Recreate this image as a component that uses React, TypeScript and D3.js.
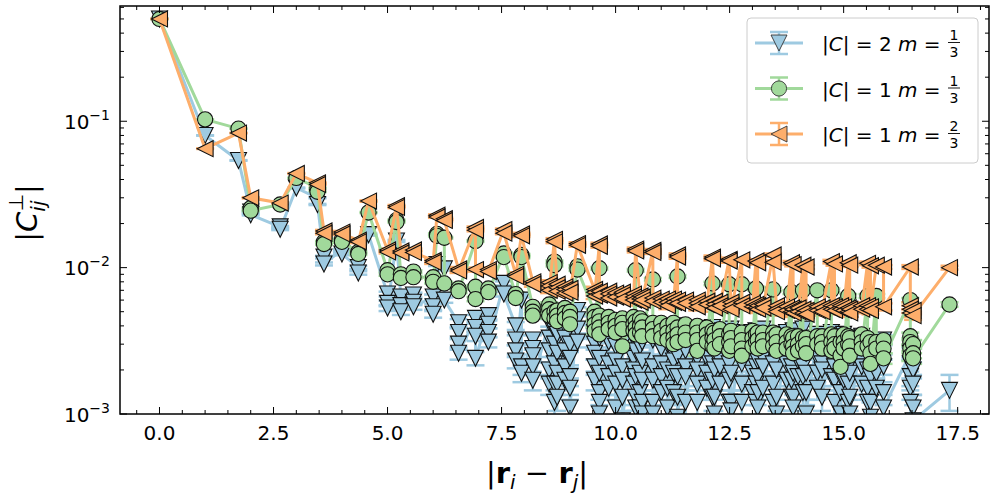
import React from 'react';
import * as d3 from 'd3';

// pair distances |r_i - r_j| (x positions of the point columns)
const distances = [
0, 1, 1.732, 2, 2.646, 3, 3.464, 3.606, 4, 4.359,
4.583, 5, 5.196, 5.292, 5.568, 6, 6.083, 6.245, 6.557, 6.928,
7.211, 7.55, 7.81, 7.937, 8.185, 8.544, 8.66, 8.718, 8.888, 9.0,
9.165, 9.539, 9.644, 9.849, 10.0, 10.149, 10.392, 10.44, 10.536, 10.583,
10.817, 11.0, 11.136, 11.269, 11.358, 11.533, 11.79, 12.0, 12.124, 12.166,
12.288, 12.49, 12.53, 12.767, 13.0, 13.077, 13.115, 13.229, 13.454, 13.528,
13.748, 13.856, 13.892, 14.0, 14.107, 14.177, 14.422, 14.526, 14.731, 14.799,
14.933, 15.0, 15.1, 15.133, 15.395, 15.524, 15.588, 15.716, 15.875, 16.462,
16.523, 17.321
];

// |C| = 2, m = 1/3 (down triangles): values at each distance
const blueValues: number[][] = [
[0.50],[0.080],[0.054],[0.024, 0.023],[0.0190, 0.0183],[0.035],[0.030, 0.027],[0.0118, 0.0106],[0.0132, 0.0124],[0.0100, 0.0092],
[0.0168],[0.0066, 0.0057, 0.0053],[0.0152],[0.0063, 0.0055, 0.0050],[0.0065, 0.0058, 0.0054],[0.0063, 0.0054, 0.0048],[0.0105],[0.0098, 0.0060],[0.0042, 0.0036, 0.0030, 0.0026],[0.0045, 0.0039, 0.0034, 0.0024],
[0.0047, 0.0041, 0.0036, 0.0031],[0.0078, 0.0066],[0.0040, 0.0032, 0.0027, 0.0023],[0.0060, 0.0021, 0.0019],[0.0032, 0.0028, 0.0025, 0.0021, 0.0017],
[0.0042, 0.0033, 0.0027, 0.0020, 0.0016],
[0.0037, 0.0030, 0.0022, 0.0016, 0.0012],
[0.0035, 0.0026, 0.0019, 0.0016, 0.0013],
[0.0040, 0.0033, 0.0027, 0.0021, 0.0017],
[0.0030, 0.0024, 0.0018, 0.0015, 0.0011],
[0.0051, 0.0044, 0.0038, 0.0031],
[0.0036, 0.0030, 0.0026, 0.0021, 0.0017],
[0.0033, 0.0024, 0.0019, 0.0014, 0.0012, 0.0010],
[0.0038, 0.0031, 0.0022, 0.0018, 0.0015],
[0.0029, 0.0023, 0.0019, 0.0016, 0.0011],
[0.0035, 0.0030, 0.0021, 0.0017, 0.0013, 0.0009],
[0.0040, 0.0033, 0.0024, 0.0020, 0.0016],
[0.0034, 0.0027, 0.0018, 0.0013, 0.0011],
[0.0037, 0.0029, 0.0019, 0.0014, 0.0011],
[0.0031, 0.0023, 0.0017, 0.0012, 0.0010],
[0.0039, 0.0032, 0.0021, 0.0017, 0.0012, 0.0010],
[0.0035, 0.0028, 0.0022, 0.0018, 0.0014],
[0.0038, 0.0030, 0.0020, 0.0015, 0.0011],
[0.0033, 0.0026, 0.0023, 0.0019, 0.0014],
[0.0040, 0.0033, 0.0025, 0.0018, 0.0013, 0.00095],
[0.0036, 0.0027, 0.0021, 0.0018, 0.0012],
[0.0038, 0.0030, 0.0024, 0.0020, 0.0016, 0.0012],
[0.0034, 0.0028, 0.0024, 0.0019, 0.0015],
[0.0039, 0.0031, 0.0022, 0.0017, 0.0013],
[0.0032, 0.0026, 0.0020, 0.0013, 0.0010],
[0.0037, 0.0029, 0.0023, 0.0021, 0.0016],
[0.0035, 0.0027, 0.0022, 0.0017, 0.0012],
[0.0038, 0.0030, 0.0019, 0.0012, 0.00105],
[0.0036, 0.0031, 0.0025, 0.0022, 0.0016, 0.0012],
[0.0033, 0.0028, 0.0024, 0.0019, 0.0014],
[0.0037, 0.0029, 0.0021, 0.0016, 0.0012],
[0.0034, 0.0027, 0.0023, 0.0018, 0.0014, 0.0011],
[0.0038, 0.0030, 0.0024, 0.0021, 0.0015],
[0.0035, 0.0026, 0.0022, 0.0016, 0.0012],
[0.0032, 0.0028, 0.0020, 0.0013, 0.0010],
[0.0036, 0.0031, 0.0025, 0.0022, 0.0017],
[0.0033, 0.0027, 0.0021, 0.0017, 0.0013],
[0.0037, 0.0029, 0.0019, 0.0013, 0.0011],
[0.0034, 0.0030, 0.0026, 0.0023, 0.0018],
[0.0038, 0.0030, 0.0021, 0.0018, 0.0014],
[0.0033, 0.0026, 0.0019, 0.0014, 0.0010],
[0.0035, 0.0029, 0.0024, 0.0019, 0.0015],
[0.0032, 0.0027, 0.0022, 0.0020, 0.0013],
[0.0036, 0.0031, 0.0026, 0.0024, 0.0018],
[0.0034, 0.0028, 0.0021, 0.0017, 0.0012],
[0.0031, 0.0028, 0.0018, 0.0014, 0.0010],
[0.0035, 0.0030, 0.0024, 0.0022, 0.0017],
[0.0033, 0.0027, 0.0021, 0.0016, 0.0012],
[0.0030, 0.0025, 0.0019, 0.0013, 0.0010],
[0.0034, 0.0029, 0.0023, 0.0021, 0.0016],
[0.0031, 0.0026, 0.0020, 0.0015, 0.0012],
[0.0029, 0.0024, 0.0018, 0.0012, 0.00095],
[0.0030, 0.0027, 0.0023, 0.0019, 0.0015],
[0.0032, 0.0028, 0.0021, 0.0014, 0.0011],
[0.0026, 0.0022, 0.0018, 0.0015, 0.0012],
[0.0020, 0.0016, 0.0011, 0.0009],
[0.00145]
];

// |C| = 1, m = 1/3 (circles)
const greenValues: number[][] = [
[0.50],[0.103],[0.089],[0.0255, 0.0245],[0.027],[0.041],[0.035, 0.033],[0.0150, 0.0145],[0.0156, 0.0150],[0.0128, 0.0124],
[0.0238],[0.0096, 0.0090],[0.0211, 0.0205],[0.0090, 0.0085],[0.0094, 0.0086],[0.0086, 0.0080],[0.0170, 0.0165],[0.0160, 0.0078],[0.0072, 0.0069],[0.0152, 0.0074, 0.0061],
[0.0072, 0.0068],[0.0125, 0.0118],[0.0066, 0.0062],[0.0122, 0.0118],[0.0054, 0.0050, 0.0047],
[0.0056, 0.0052, 0.0047],
[0.0110, 0.0104, 0.0050, 0.0045],
[0.0051, 0.0047, 0.0043],
[0.0053, 0.0049, 0.0045],
[0.0050, 0.0046, 0.0041],
[0.0102, 0.0097],
[0.0050, 0.0046, 0.0041, 0.0037],
[0.0099, 0.0047, 0.0043, 0.0039, 0.0035],
[0.0046, 0.0042, 0.0038],
[0.0044, 0.0040, 0.0036],
[0.0045, 0.0042, 0.0038, 0.0029],
[0.0046, 0.0041, 0.0037],
[0.0096, 0.0043, 0.0039, 0.0035],
[0.0045, 0.0040, 0.0036],
[0.0043, 0.0039, 0.0034],
[0.0083, 0.0042, 0.0038, 0.0034],
[0.0042, 0.0037, 0.0033],
[0.0040, 0.0036, 0.0032],
[0.0042, 0.0037, 0.0033, 0.0030],
[0.0087, 0.0039, 0.0035, 0.0031],
[0.0041, 0.0036, 0.0032],
[0.0040, 0.0036, 0.0032, 0.0027],
[0.0039, 0.0035, 0.0031],
[0.0078, 0.0037, 0.0033, 0.0029],
[0.0036, 0.0032, 0.0028],
[0.0038, 0.0034, 0.0030],
[0.0077, 0.0035, 0.0031, 0.0027],
[0.0037, 0.0033, 0.0029],
[0.0077, 0.0036, 0.0032, 0.0028, 0.0025],
[0.0037, 0.0033, 0.0029],
[0.0072, 0.0035, 0.0031],
[0.0036, 0.0032, 0.0028],
[0.0036, 0.0032, 0.0029],
[0.0071, 0.0036, 0.0033, 0.0029],
[0.0035, 0.0031, 0.0027],
[0.0035, 0.0031, 0.0028],
[0.0068, 0.0034, 0.0030],
[0.0033, 0.0029, 0.0026],
[0.0034, 0.0030, 0.0027],
[0.0070, 0.0033, 0.0029],
[0.0033, 0.0030, 0.0026],
[0.0070, 0.0034, 0.0030],
[0.0034, 0.0031, 0.0028],
[0.0070, 0.0035, 0.0031, 0.0027],
[0.0034, 0.0030, 0.0028],
[0.0031, 0.0025, 0.0021],
[0.0035, 0.0031, 0.0028],
[0.0064, 0.0034, 0.0030],
[0.0033, 0.0029, 0.0025],
[0.0035, 0.0031, 0.0028],
[0.0064, 0.0033, 0.0029],
[0.0031, 0.0026, 0.0022],
[0.0064, 0.0031, 0.0028],
[0.0032, 0.0028, 0.0024],
[0.0060, 0.0034, 0.0031, 0.0028, 0.0025],
[0.0030, 0.0026, 0.0024],
[0.0056]
];

// |C| = 1, m = 2/3 (left triangles)
const orangeValues: number[][] = [
[0.50],[0.065],[0.083],[0.030],[0.0276],[0.044],[0.038, 0.037],[0.0178, 0.0172],[0.0175, 0.0170],[0.0154, 0.0150],
[0.0285],[0.0132, 0.0128],[0.0265, 0.0258],[0.0130, 0.0126],[0.0132, 0.0127],[0.0112, 0.0109],[0.0228, 0.0222],[0.0216, 0.0210],[0.0098, 0.0095],[0.0188, 0.0180, 0.0097],
[0.0097, 0.0094],[0.0182, 0.0172],[0.0090, 0.0087],[0.0170, 0.0165],[0.0080, 0.0077],
[0.0079, 0.0075, 0.0070],
[0.0156, 0.0150],
[0.0077, 0.0073, 0.0069],
[0.0074, 0.0071, 0.0067],
[0.0072, 0.0068],
[0.0146, 0.0142],
[0.0071, 0.0068, 0.0064],
[0.0145, 0.0140, 0.0069, 0.0065],
[0.0069, 0.0066, 0.0062],
[0.0067, 0.0063],
[0.0068, 0.0065, 0.0061],
[0.0066, 0.0063, 0.0060],
[0.0134, 0.0130],
[0.0064, 0.0061, 0.0058],
[0.0063, 0.0060],
[0.0131, 0.0127, 0.0062, 0.0059],
[0.0061, 0.0058],
[0.0061, 0.0058, 0.0055],
[0.0061, 0.0058],
[0.0122, 0.0118, 0.0060, 0.0057],
[0.0060, 0.0057],
[0.0060, 0.0057, 0.0054],
[0.0059, 0.0056],
[0.0118, 0.0115],
[0.0059, 0.0056, 0.0053],
[0.0058, 0.0055],
[0.0114, 0.0111],
[0.0058, 0.0055, 0.0052],
[0.0113, 0.0058, 0.0055],
[0.0057, 0.0054],
[0.0111, 0.0056, 0.0053],
[0.0108, 0.0055, 0.0052],
[0.0056, 0.0053],
[0.0122, 0.0109],
[0.0055, 0.0052, 0.0050],
[0.0054, 0.0051],
[0.0108, 0.0053, 0.0050],
[0.0105, 0.0052, 0.0049],
[0.0053, 0.0050],
[0.0104, 0.0052, 0.0049],
[0.0101, 0.0051, 0.0048],
[0.0054, 0.0051],
[0.0053, 0.0050],
[0.0110, 0.0055, 0.0052],
[0.0106, 0.0054, 0.0051],
[0.0055, 0.0052],
[0.0054, 0.0051],
[0.0108, 0.0053, 0.0050],
[0.0104, 0.0052, 0.0049],
[0.0055, 0.0052],
[0.0107, 0.0055, 0.0052],
[0.0103, 0.0054, 0.0051],
[0.0104],
[0.0101, 0.0054],
[0.0101, 0.0055, 0.0052, 0.0049],
[0.0051, 0.0047],
[0.0100]
];

const seriesErr = [0.00025, 0.0002, 0.0003];
const lastBlueErr = 0.0004;
const seriesColors = ['#9ecae1', '#a1d99b', '#fdae6b'];
const seriesMarkers = ['down', 'circle', 'left'];
const legendC = ['2', '1', '1'];
const legendNum = ['1', '1', '2'];
const legendDen = ['3', '3', '3'];

const xTicks = [0, 2.5, 5, 7.5, 10, 12.5, 15, 17.5];
const xTickLabels = ['0.0', '2.5', '5.0', '7.5', '10.0', '12.5', '15.0', '17.5'];
const yTicks = [1e-3, 1e-2, 1e-1];
const yTickExps = ['\u22123', '\u22122', '\u22121'];

const W = 996, H = 498;
const L = 120, R = 989, T = 6, B = 414;
const FONT = 'DejaVu Sans, sans-serif';

function flatten(vals: number[][], si: number): number[][] {
  const out: number[][] = [];
  vals.forEach((list, i) => list.forEach(v => out.push([distances[i], v, seriesErr[si]])));
  if (si === 0) out[out.length - 1][2] = lastBlueErr;
  return out;
}

function markerPath(kind: string, cx: number, cy: number, s: number) {
  const h = s / 2;
  if (kind === 'down') return `M${cx - h},${cy - h}L${cx + h},${cy - h}L${cx},${cy + h}Z`;
  if (kind === 'left') return `M${cx - h},${cy}L${cx + h},${cy - h}L${cx + h},${cy + h}Z`;
  return '';
}

export default function App() {
  const x = d3.scaleLinear().domain([-0.866, 18.187]).range([L, R]);
  const y = d3.scaleLog().domain([1e-3, 0.613]).range([B, T]);
  const all = [flatten(blueValues, 0), flatten(greenValues, 1), flatten(orangeValues, 2)];
  const line = d3.line<number[]>().x(d => x(d[0])).y(d => y(Math.max(d[1], 1e-5)));
  const S = 16;

  const xMinor = d3.range(-0.5, 18.01, 0.5).filter(v => Math.abs(v / 2.5 - Math.round(v / 2.5)) > 1e-6);
  const yMinor: number[] = [];
  [1e-3, 1e-2, 1e-1].forEach(d => { for (let k = 2; k <= 9; k++) if (k * d <= 0.613) yMinor.push(k * d); });

  const marker = (kind: string, cx: number, cy: number, fill: string, sw: number, stroke: string, key: any) =>
    kind === 'circle'
      ? <circle key={key} cx={cx} cy={cy} r={7.6} fill={fill} stroke={stroke} strokeWidth={sw} />
      : <path key={key} d={markerPath(kind, cx, cy, S)} fill={fill} stroke={stroke} strokeWidth={sw} strokeLinejoin="miter" />;

  return (
    <svg width={W} height={H} style={{ position: 'absolute', left: 0, top: 0, background: '#fff' }} fontFamily={FONT}>
      <defs>
        <clipPath id="plotclip"><rect x={L} y={T} width={R - L} height={B - T} /></clipPath>
      </defs>
      <rect x={0} y={0} width={W} height={H} fill="#fff" />
      <g clipPath="url(#plotclip)">
        {all.map((ser, si) => (
          <g key={'e' + si} stroke={seriesColors[si]} strokeWidth={2.5}>
            {ser.map((d, i) => {
              const e = d[2];
              const cx = x(d[0]);
              const y1 = y(Math.max(d[1] - e, 1e-5));
              const y2 = y(d[1] + e);
              return (
                <g key={i}>
                  <line x1={cx} x2={cx} y1={y1} y2={y2} />
                  <line x1={cx - 9} x2={cx + 9} y1={y1} y2={y1} />
                  <line x1={cx - 9} x2={cx + 9} y1={y2} y2={y2} />
                </g>
              );
            })}
          </g>
        ))}
        {all.map((ser, si) => (
          <g key={'s' + si}>
            <path d={line(ser) || ''} fill="none" stroke={seriesColors[si]} strokeWidth={3} strokeLinejoin="round" />
            {ser.map((d, i) => marker(seriesMarkers[si], x(d[0]), y(d[1]), seriesColors[si], 1.1, '#111', i))}
          </g>
        ))}
      </g>

      <g stroke="#000" strokeWidth={1}>
        {xTicks.map((t, i) => (
          <g key={'xt' + i}>
            <line x1={x(t)} x2={x(t)} y1={B} y2={B - 7} />
            <line x1={x(t)} x2={x(t)} y1={T} y2={T + 7} />
          </g>
        ))}
        {xMinor.map((t, i) => (
          <g key={'xm' + i}>
            <line x1={x(t)} x2={x(t)} y1={B} y2={B - 4} />
            <line x1={x(t)} x2={x(t)} y1={T} y2={T + 4} />
          </g>
        ))}
        {yTicks.map((t, i) => (
          <g key={'yt' + i}>
            <line x1={L} x2={L + 7} y1={y(t)} y2={y(t)} />
            <line x1={R} x2={R - 7} y1={y(t)} y2={y(t)} />
          </g>
        ))}
        {yMinor.map((t, i) => (
          <g key={'ym' + i}>
            <line x1={L} x2={L + 4} y1={y(t)} y2={y(t)} />
            <line x1={R} x2={R - 4} y1={y(t)} y2={y(t)} />
          </g>
        ))}
      </g>
      <rect x={L} y={T} width={R - L} height={B - T} fill="none" stroke="#000" strokeWidth={1.5} />

      {xTicks.map((t, i) => (
        <text key={'xl' + i} x={x(t)} y={440} textAnchor="middle" fontSize={20} fill="#000">{xTickLabels[i]}</text>
      ))}
      {yTicks.map((t, i) => (
        <text key={'yl' + i} x={110} y={y(t) + 7.5} textAnchor="end" fontSize={20} fill="#000">
          <tspan>10</tspan><tspan dy={-9} fontSize={14}>{yTickExps[i]}</tspan>
        </text>
      ))}

      <text x={537} y={483} textAnchor="middle" fontSize={29} fill="#000">
        <tspan>|</tspan><tspan fontWeight="bold">r</tspan><tspan fontStyle="italic" fontSize={20} dy={6}>i</tspan>
        <tspan dy={-6}>{' \u2212 '}</tspan><tspan fontWeight="bold">r</tspan><tspan fontStyle="italic" fontSize={20} dy={6}>j</tspan>
        <tspan dy={-6}>|</tspan>
      </text>
      <text transform="translate(37,213) rotate(-90)" textAnchor="middle" fontSize={29} fill="#000">
        <tspan>|</tspan><tspan fontStyle="italic">C</tspan>
        <tspan fontStyle="italic" fontSize={20} dy={8}>ij</tspan>
        <tspan fontSize={20} dx={-11} dy={-22}>{'\u22A5'}</tspan>
        <tspan dy={14}>|</tspan>
      </text>

      <rect x={747} y={18} width={231} height={145} rx={4} fill="#fff" fillOpacity={0.8} stroke="#cccccc" strokeWidth={1} />
      {seriesColors.map((c, i) => {
        const ly = 43 + i * 45.5;
        return (
          <g key={'lg' + i}>
            <line x1={755} x2={803} y1={ly} y2={ly} stroke={c} strokeWidth={3} />
            <g stroke={c} strokeWidth={2.5}>
              <line x1={779} x2={779} y1={ly - 11} y2={ly + 11} />
              <line x1={770} x2={788} y1={ly - 11} y2={ly - 11} />
              <line x1={770} x2={788} y1={ly + 11} y2={ly + 11} />
            </g>
            {marker(seriesMarkers[i], 779, ly, c, 0.9, '#333', 'm')}
            <text x={822} y={ly + 8} fontSize={20} fill="#000">
              <tspan>|</tspan><tspan fontStyle="italic">C</tspan><tspan>{'| = ' + legendC[i] + ' '}</tspan>
              <tspan fontStyle="italic">m</tspan><tspan>{' ='}</tspan>
            </text>
            <text x={954} y={ly - 3} textAnchor="middle" fontSize={14} fill="#000">{legendNum[i]}</text>
            <line x1={948} x2={960} y1={ly - 0.5} y2={ly - 0.5} stroke="#000" strokeWidth={0.9} />
            <text x={954} y={ly + 14} textAnchor="middle" fontSize={14} fill="#000">{legendDen[i]}</text>
          </g>
        );
      })}
    </svg>
  );
}
